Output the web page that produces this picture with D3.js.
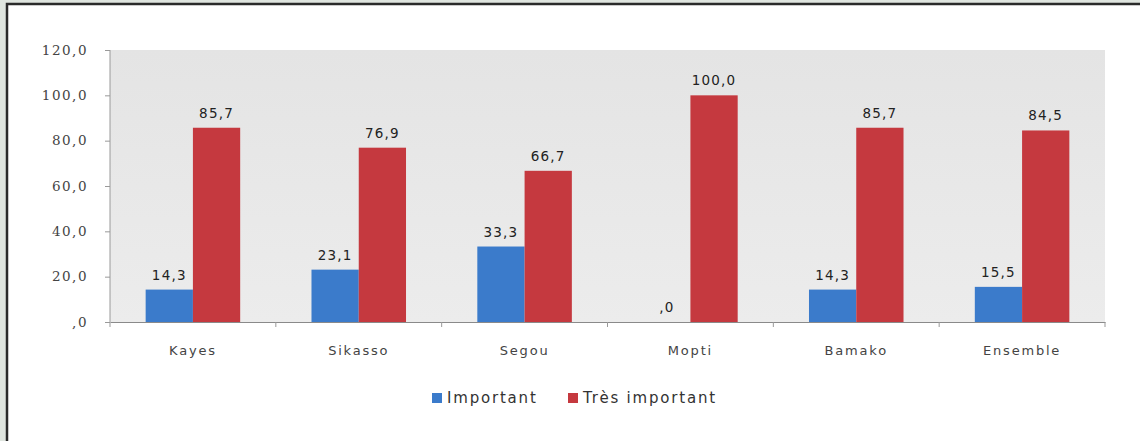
<!DOCTYPE html>
<html>
<head>
<meta charset="utf-8">
<style>
    body { margin: 0; background: #dfe5df; }
    svg { display: block; }
    .y .domain { display: none; }
    .y .tick line { stroke: #999; }
    .y .tick text { font-family: 'DejaVu Serif', serif; font-size: 13.5px; fill: #444; letter-spacing: 1.5px; }
    .x .domain { stroke: #8a8a8a; }
    .x .tick line { stroke: #999; }
    .x .tick text { font-family: 'DejaVu Sans', sans-serif; font-size: 13px; fill: #444; letter-spacing: 1.8px; }
    .val { font-family: 'DejaVu Sans', sans-serif; font-size: 13.5px; fill: #222; letter-spacing: 1.2px; }
    .legend-label { font-family: 'DejaVu Sans', sans-serif; font-size: 15px; fill: #333; letter-spacing: 1.8px; }
</style>
</head>
<body>
<svg width="1140" height="441"></svg>
<script src="https://d3js.org/d3.v7.min.js"></script>
<script>
    let categories = ["Kayes", "Sikasso", "Segou", "Mopti", "Bamako", "Ensemble"]
    let seriesNames = ["Important", "Très important"]
    let important = [14.3, 23.1, 33.3, 0, 14.3, 15.5]
    let tresImportant = [85.7, 76.9, 66.7, 100, 85.7, 84.5]
    let yTicks = [0, 20, 40, 60, 80, 100, 120]
    let colors = ["#3b7bcb", "#c5393f"]

    let svg = d3.select("svg")

    // frame
    svg.append("rect")
        .attr("x", 7).attr("y", 4)
        .attr("width", 1140).attr("height", 441)
        .attr("fill", "white")
        .attr("stroke", "#2a2a2a")
        .attr("stroke-width", 2.5)

    let margin = { top: 50, right: 35, bottom: 119, left: 110 }
    let width = 1140, height = 441

    let x = d3.scaleBand()
        .domain(categories)
        .range([margin.left, width - margin.right])
        .paddingInner(0.43).paddingOuter(0.215)

    let x1 = d3.scaleBand()
        .domain(seriesNames)
        .range([0, x.bandwidth()])

    let y = d3.scaleLinear()
        .domain([0, 120])
        .range([height - margin.bottom, margin.top])

    let fmt = v => v === 0 ? ",0" : d3.format(".1f")(v).replace(".", ",")

    // plot background
    let defs = svg.append("defs")
    let bg = defs.append("linearGradient").attr("id", "bg")
        .attr("x1", 0).attr("y1", 0).attr("x2", 0).attr("y2", 1)
    bg.append("stop").attr("offset", 0).attr("stop-color", "#e4e4e4")
    bg.append("stop").attr("offset", 1).attr("stop-color", "#ececec")

    svg.append("rect")
        .attr("x", margin.left).attr("y", margin.top)
        .attr("width", width - margin.right - margin.left)
        .attr("height", y(0) - margin.top)
        .attr("fill", "url(#bg)")

    // y axis
    svg.append("g")
        .attr("class", "y axis")
        .attr("transform", `translate(${margin.left},0)`)
        .call(d3.axisLeft(y).tickValues(yTicks).tickSize(5).tickPadding(17).tickFormat(fmt))

    svg.append("line")
        .attr("x1", margin.left).attr("x2", margin.left)
        .attr("y1", margin.top).attr("y2", y(0))
        .attr("stroke", "#999")

    // bars
    let data = categories.map((c, i) => ({ cat: c, vals: [important[i], tresImportant[i]] }))

    let groups = svg.append("g").selectAll("g")
        .data(data)
        .join("g")
        .attr("transform", d => `translate(${x(d.cat)},0)`)

    groups.selectAll("rect")
        .data(d => d.vals.map((v, j) => ({ key: seriesNames[j], v: v, j: j })))
        .join("rect")
        .attr("x", d => x1(d.key))
        .attr("width", x1.bandwidth())
        .attr("y", d => y(d.v))
        .attr("height", d => y(0) - y(d.v))
        .attr("fill", d => colors[d.j])

    groups.selectAll("text")
        .data(d => d.vals.map((v, j) => ({ key: seriesNames[j], v: v, j: j })))
        .join("text")
        .attr("class", "val")
        .attr("x", d => x1(d.key) + x1.bandwidth() / 2)
        .attr("y", d => y(d.v) - 10)
        .attr("text-anchor", "middle")
        .text(d => fmt(d.v))

    // x axis with ticks between categories
    let xg = svg.append("g")
        .attr("class", "x axis")
        .attr("transform", `translate(0,${y(0)})`)
        .call(d3.axisBottom(x).tickSize(0).tickPadding(24))

    let bounds = d3.range(categories.length + 1).map(i => margin.left + i * (width - margin.right - margin.left) / categories.length)
    xg.selectAll(".sep")
        .data(bounds)
        .join("line")
        .attr("class", "sep")
        .attr("x1", d => d).attr("x2", d => d)
        .attr("y1", 0).attr("y2", 5)
        .attr("stroke", "#999")

    // legend
    let legend = svg.append("g")
    let legX = [432, 568]
    seriesNames.forEach((s, i) => {
        legend.append("rect")
            .attr("x", legX[i]).attr("y", 393)
            .attr("width", 10).attr("height", 10)
            .attr("fill", colors[i])
        legend.append("text")
            .attr("class", "legend-label")
            .attr("x", legX[i] + 15).attr("y", 403)
            .text(s)
    })
</script>
</body>
</html>
